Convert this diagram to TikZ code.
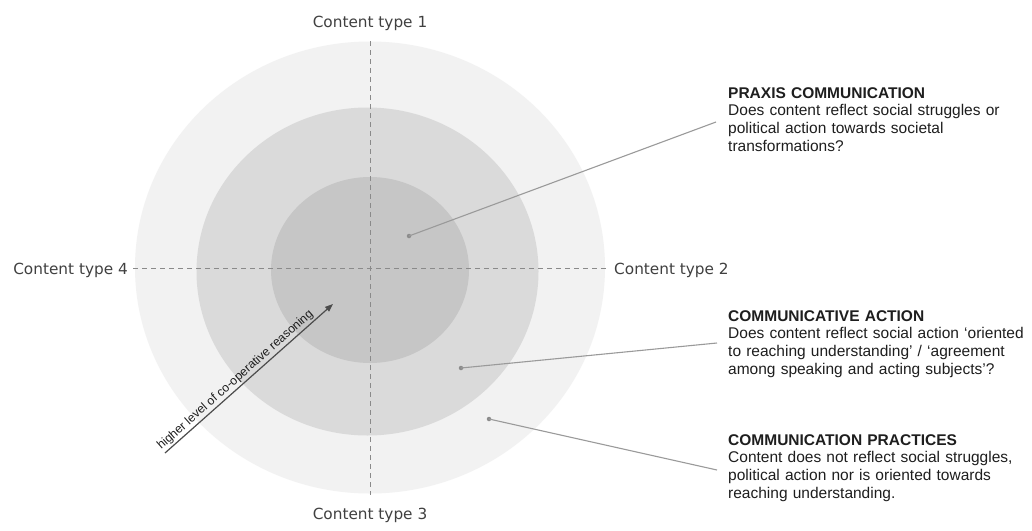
\documentclass[tikz,border=0pt]{standalone}
\usepackage{fontspec}
\setmainfont{Liberation Sans}
\newfontfamily\dejavu{DejaVu Sans}
\usetikzlibrary{arrows.meta}
\definecolor{ringA}{HTML}{F2F2F2}
\definecolor{ringB}{HTML}{DADADA}
\definecolor{ringC}{HTML}{C6C6C6}
\definecolor{axisgray}{HTML}{8A8A8A}
\definecolor{labelgray}{HTML}{404040}
\definecolor{leadergray}{HTML}{9A9A9A}
\definecolor{dotgray}{HTML}{8C8C8C}
\definecolor{textdark}{HTML}{1E1E1E}
\tikzset{
  axisline/.style={draw=axisgray, line width=0.9pt, dash pattern=on 5pt off 4pt},
  ctlabel/.style={font=\dejavu\fontsize{15.3}{18}\selectfont, text=labelgray, inner sep=0pt},
  infobox/.style={anchor=north west, inner sep=0pt, text width=310pt, align=left,
     font=\fontsize{15.5}{17.7}\selectfont, text=textdark},
  leader/.style={draw=leadergray, line width=1.1pt},
  dotmark/.style={circle, fill=dotgray, minimum size=4.5pt, inner sep=0pt},
  risearrow/.style={draw=black!70, line width=1.2pt, -{Triangle[length=8pt,width=6pt]}}
}
\begin{document}
\begin{tikzpicture}[x=1pt,y=-1pt]
\useasboundingbox (0,0) rectangle (1032,530);
\fill[white] (0,0) rectangle (1032,530);
% rings
\fill[ringA] (370,267.5) ellipse [x radius=235, y radius=226];
\fill[ringB] (367.5,271.5) ellipse [x radius=171, y radius=164];
\fill[ringC] (370,270) ellipse [x radius=99, y radius=93];
% axes
\coordinate (vt) at (370,41);
\coordinate (vb) at (370,495);
\coordinate (hl) at (133,268);
\coordinate (hr) at (606,268);
\draw[axisline] (vt) -- (vb);
\draw[axisline] (hl) -- (hr);
% axis labels
\node[ctlabel] (ct1) at (370,23) {Content type 1};
\node[ctlabel] (ct3) at (370,515) {Content type 3};
\node[ctlabel, anchor=east] (ct4) at (128,270) {Content type 4};
\node[ctlabel, anchor=west] (ct2) at (614,270) {Content type 2};
% arrow
\coordinate (as) at (165,453);
\coordinate (ae) at (333,304);
\draw[risearrow] (as) -- node[pos=0.45, sloped, above, inner sep=1.5pt, font=\fontsize{12.2}{14}\selectfont, text=textdark] (arrlabel) {higher level of co-operative reasoning} (ae);
% info blocks
\node[infobox] (praxis) at (728,87) {\textbf{PRAXIS COMMUNICATION}\\Does content reflect social struggles or\\political action towards societal\\transformations?};
\node[infobox] (commact) at (728,310) {\textbf{COMMUNICATIVE ACTION}\\Does content reflect social action `oriented\\to reaching understanding' / `agreement\\among speaking and acting subjects'?};
\node[infobox] (commprac) at (728,434) {\textbf{COMMUNICATION PRACTICES}\\Content does not reflect social struggles,\\political action nor is oriented towards\\reaching understanding.};
% leaders
\node[dotmark] (d1) at (409,236) {};
\node[dotmark] (d2) at (461,368) {};
\node[dotmark] (d3) at (489,419) {};
\coordinate (e1) at (716,122);
\coordinate (e2) at (717,343);
\coordinate (e3) at (717,470);
\draw[leader] (d1.center) -- (e1);
\draw[leader] (d2.center) -- (e2);
\draw[leader] (d3.center) -- (e3);
\end{tikzpicture}
\end{document}
